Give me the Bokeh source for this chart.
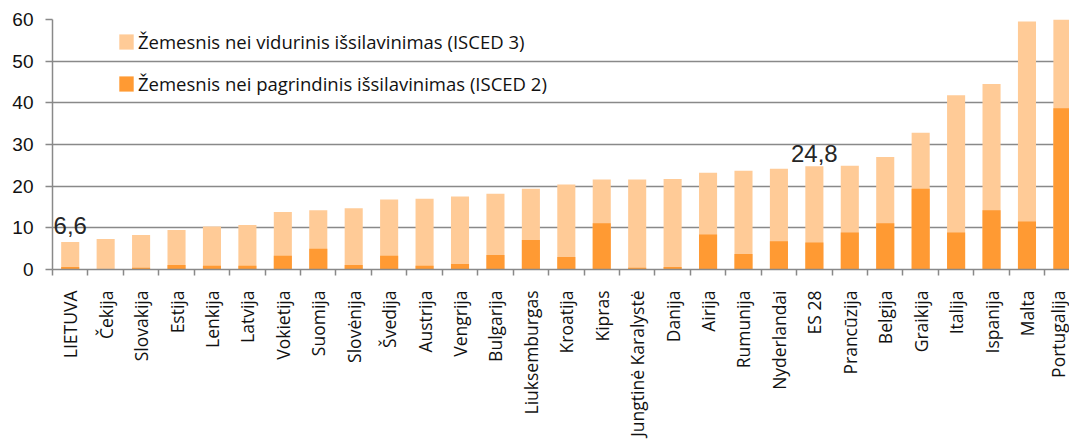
import math
import numpy as np
from bokeh.plotting import figure
from bokeh.core.properties import value
from bokeh.models import Range1d, FixedTicker, ColumnDataSource, LabelSet, Legend, LegendItem
from bokeh.embed import file_html
from bokeh.resources import INLINE

countries = ["LIETUVA", "Čekija", "Slovakija", "Estija", "Lenkija", "Latvija", "Vokietija",
             "Suomija", "Slovėnija", "Švedija", "Austrija", "Vengrija", "Bulgarija",
             "Liuksemburgas", "Kroatija", "Kipras", "Jungtinė Karalystė", "Danija", "Airija",
             "Rumunija", "Nyderlandai", "ES 28", "Prancūzija", "Belgija", "Graikija", "Italija",
             "Ispanija", "Malta", "Portugalija"]
# total share below upper-secondary (ISCED 3) and below lower-secondary (ISCED 2)
isced3_total = [6.6, 7.3, 8.3, 9.5, 10.3, 10.7, 13.8, 14.2, 14.7, 16.8, 17.0, 17.5, 18.2,
                19.4, 20.4, 21.6, 21.6, 21.7, 23.2, 23.7, 24.2, 24.8, 24.9, 27.0, 32.8, 41.8,
                44.5, 59.5, 60.5]
isced2_vals = [0.6, 0.0, 0.4, 1.1, 0.9, 0.9, 3.3, 5.0, 1.1, 3.3, 0.9, 1.3, 3.5, 7.1, 3.0,
               11.1, 0.4, 0.6, 8.4, 3.7, 6.8, 6.5, 8.9, 11.1, 19.4, 8.9, 14.2, 11.5, 38.7]
highlight = ["LIETUVA", "ES 28"]
y_ticks = [0, 10, 20, 30, 40, 50, 60]

LIGHT = "#FFCB97"
DARK = "#FF9A33"
GRID = "#898989"

idx = np.arange(len(countries))
src = ColumnDataSource(dict(x=idx, total=isced3_total, low=isced2_vals))

p = figure(width=1069, height=439, output_backend="svg", toolbar_location=None,
           x_range=Range1d(-0.5, 28.2), y_range=Range1d(0, 60),
           min_border_left=52, min_border_right=0, min_border_top=19, min_border_bottom=10)
p.outline_line_color = None
p.background_fill_color = "white"

r_light = p.vbar(x="x", top="total", bottom=0, width=0.51, source=src,
                 fill_color=LIGHT, line_color=None)
r_dark = p.vbar(x="x", top="low", bottom=0, width=0.51, source=src,
                fill_color=DARK, line_color=None)

# value labels
hl_i = [countries.index(c) for c in highlight]
lab_src = ColumnDataSource(dict(
    x=[int(i) for i in hl_i],
    y=[isced3_total[i] for i in hl_i],
    t=[f"{isced3_total[i]:.1f}".replace(".", ",") for i in hl_i],
    off=[8, 4],
))
p.add_layout(LabelSet(x="x", y="y", text="t", source=lab_src, y_offset="off",
                      text_align="center", text_baseline="alphabetic",
                      text_font=value("Liberation Sans"), text_font_size=value("24px"),
                      text_color="#262626"))

# x axis
xa = p.xaxis[0]
xa.ticker = FixedTicker(ticks=list(idx), minor_ticks=[i - 0.5 for i in range(len(countries) + 1)])
xa.major_label_overrides = {int(i): c for i, c in zip(idx, countries)}
xa.major_label_orientation = math.pi / 2
xa.major_label_text_font = "Open Sans"
xa.major_label_text_font_size = "17.5px"
xa.major_label_text_color = "#111111"
xa.major_label_standoff = 15
xa.major_tick_line_color = None
xa.major_tick_out = 0
xa.major_tick_in = 0
xa.minor_tick_line_color = GRID
xa.minor_tick_line_width = 1.5
xa.minor_tick_out = 6
xa.minor_tick_in = 0
xa.axis_line_color = GRID
xa.axis_line_width = 1.5

# y axis
ya = p.yaxis[0]
ya.ticker = FixedTicker(ticks=y_ticks)
ya.major_label_text_font = "Liberation Sans"
ya.major_label_text_font_size = "19px"
ya.major_label_text_color = "#111111"
ya.major_label_standoff = 12
ya.major_tick_out = 7
ya.major_tick_in = 0
ya.major_tick_line_color = GRID
ya.major_tick_line_width = 1.5
ya.minor_tick_line_color = None
ya.axis_line_color = GRID
ya.axis_line_width = 1.5

p.xgrid.grid_line_color = None
p.ygrid.grid_line_color = GRID
p.ygrid.grid_line_width = 1.5

legend = Legend(items=[
    LegendItem(label="Žemesnis nei vidurinis išsilavinimas (ISCED 3)", renderers=[r_light]),
    LegendItem(label="Žemesnis nei pagrindinis išsilavinimas (ISCED 2)", renderers=[r_dark]),
], location=(65, 173))
legend.padding = 0
legend.margin = 0
legend.spacing = 17
legend.glyph_width = 18
legend.glyph_height = 19
legend.label_height = 19
legend.label_standoff = 3
legend.label_text_font = "Open Sans"
legend.label_text_font_size = "18.5px"
legend.label_text_color = "#111111"
legend.border_line_color = None
legend.background_fill_alpha = 0
p.add_layout(legend, "center")

open("out.html", "w").write(file_html(p, INLINE))
